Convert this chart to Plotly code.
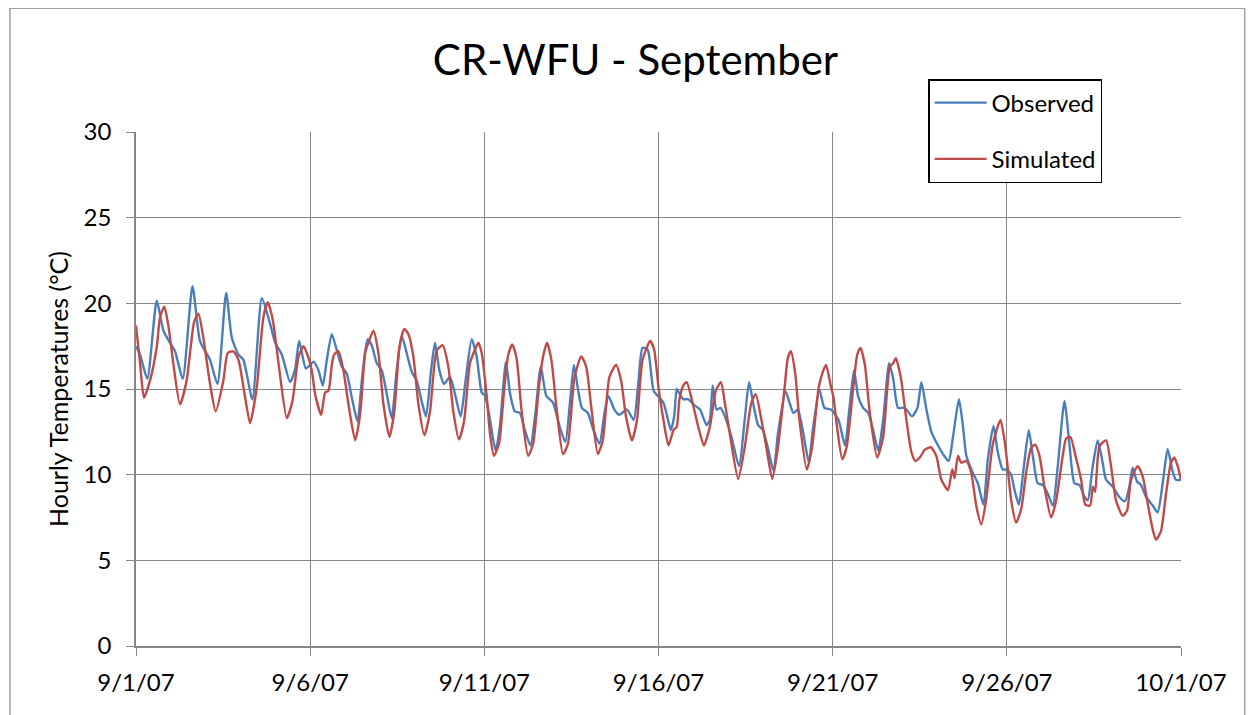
import pandas as pd
import plotly.graph_objects as go

# hours since 9/1/07 00:00 and temperature (deg C)
obs_hours = [0, 2.8, 7.8, 14.3, 18.9, 23.4, 26.9, 32.2, 38.9, 44.1, 51.0, 56.1, 62.1, 66.0, 70.6, 74.0,
             80.2, 86.7, 92.4, 95.9, 100.5, 106.2, 109.7, 112.4, 117.0, 120, 122.3, 125.7, 128.7, 131.5,
             134.9, 138.4, 141.8, 145.2, 148.7, 152.6, 155.6, 159.5, 162.4, 165.9, 169.3, 172.8, 176.2,
             179.6, 183.1, 186.5, 190, 193.4, 196.8, 199.8, 203.3, 206, 209, 212.2, 216.3, 219.8, 223.7,
             227.1, 231.3, 234.7, 238.2, 240.5, 243.9, 247.8, 250.7, 254.9, 257.6, 261, 264.5, 267.9,
             271.8, 275.2, 278.9, 282.7, 287.3, 291.9, 295.8, 299.2, 301.7, 304.5, 307.2, 311.3, 315.2,
             319.3, 322.8, 325.5, 329.6, 333, 338.3, 342.9, 346.1, 349, 352.5, 356.6, 360, 363.4, 366,
             368.5, 370.8, 372.6, 374.9, 377.1, 380.6, 384, 388.6, 393.1, 395.4, 397.3, 400, 402.7, 405.7,
             410.3, 415.5, 419.4, 422.4, 425.6, 428.6, 432, 435.4, 439.3, 442.3, 447.6, 450.3, 453, 456,
             459.4, 463.6, 466.3, 470.9, 474.3, 478.9, 484, 488.5, 491.2, 494.7, 497.6, 501, 504.5,
             507.9, 511.4, 514.8, 518.9, 521.7, 525.1, 529.7, 534.7, 538.4, 541.1, 544.6, 548, 552.6, 556,
             559.9, 562.9, 567, 569.8, 572.1, 576.6, 580, 583.9, 586.9, 590.8, 593.8, 597.2, 600, 603,
             605.3, 608.3, 611.5, 615.1, 617.9, 621.3, 624.8, 628.2, 631.7, 635.1, 639.7, 643.1, 646.6,
             650, 653.5, 655.7, 659.2, 662.6, 665.6, 668.4, 673, 677.5, 681.4, 684.4, 686.7, 689.7, 692.4,
             695.9, 700.5, 703.9, 707.4, 710.8, 714.2, 716.5, 720]
obs_temp = [17.5, 17.0, 15.6, 20.15, 18.4, 17.7, 17.2, 15.6, 21.0, 17.8, 16.7, 15.3, 20.6, 18.0, 17.0, 16.7,
            14.4, 20.3, 18.8, 17.7, 17.0, 15.4, 16.2, 17.8, 16.2, 16.4, 16.6, 16.1, 15.2, 16.7,
            18.2, 17.25, 16.3, 15.9, 14.5, 13.1, 15.5, 17.9, 17.55, 16.5, 16.1, 14.7, 13.3,
            16.1, 18.1, 17.1, 16.0, 15.5, 14.3, 13.4, 16.1, 17.7, 16.1, 15.3, 15.7, 14.7, 13.4,
            15.5, 17.9, 16.9, 14.8, 14.6, 13.2, 11.4, 12.8, 16.6, 14.8, 13.7, 13.6, 12.6,
            11.7, 13.6, 16.3, 14.6, 14.2, 12.8, 11.9, 14.4, 16.4, 15.0, 13.9, 13.6, 12.6,
            11.8, 13.6, 14.6, 13.8, 13.5, 13.8, 13.2, 15.35, 17.4, 17.3, 14.9, 14.55, 14.2, 13.4,
            12.6, 13.4, 15.0, 14.65, 14.4, 14.4, 14.1, 13.8, 12.9, 13.2, 15.2, 13.8, 13.9, 13.4,
            12.2, 10.5, 13.2, 15.4, 14.0, 12.9, 12.6, 11.55, 10.2, 12.4, 14.85, 14.2, 13.6, 13.8,
            12.6, 10.7, 12.6, 14.95, 13.9, 13.8, 13.2, 11.7, 13.6, 16.1, 14.55, 13.9, 13.6,
            12.6, 11.4, 13.2, 16.5, 15.6, 13.9, 13.9, 13.4, 13.9, 15.4, 13.8, 12.5, 11.7, 11.2,
            10.8, 12.2, 14.4, 12.8, 11.1, 10.1, 9.5, 8.25, 10.9, 12.85, 11.3, 10.3, 10.3, 10.0,
            9.1, 8.25, 10.3, 12.6, 11.1, 9.5, 9.4, 8.9, 8.2, 10.5, 14.3, 11.8, 9.5,
            9.4, 8.7, 8.5, 10.5, 12.0, 10.9, 9.7, 9.3, 8.7, 8.45, 9.3, 10.4, 9.6, 9.4,
            8.7, 8.2, 7.8, 9.5, 11.5, 10.2, 9.7, 9.7]

sim_hours = [0, 2.8, 5.5, 9.7, 14.3, 16.6, 19.5, 22.3, 25.7, 30.3, 34.9, 37.9, 40, 43, 46.4, 51, 54.9,
             60.2, 63.2, 67.1, 70.6, 75.2, 78.6, 83.2, 87.8, 90.8, 94.3, 98.2, 103.9, 107.8, 112, 115.4,
             117.7, 121.1, 123.4, 127.6, 130.3, 132.6, 134.9, 136.5, 139.5, 142.9, 146.4, 151, 154.4,
             157.9, 160.1, 163.6, 167, 170.5, 174.6, 178, 181.5, 184.9, 187.7, 191.1, 194.6, 198.7,
             202.6, 207.2, 211.3, 215.2, 218.6, 222.5, 226, 230.1, 233.6, 235.9, 238.2, 241.6, 243.9,
             246.6, 250.1, 253.7, 256.5, 259.2, 262.2, 265.6, 270.2, 273.6, 277.7, 280.5, 283.2, 286.2,
             289.6, 294.2, 297.6, 302.2, 306.8, 310.2, 313.6, 318.2, 321.6, 326.2, 330.8, 334.2, 337.6,
             341.7, 345.2, 349, 354.3, 357, 360, 363.4, 366.9, 370.3, 372.6, 374.4, 377.1, 379.4, 382.9,
             387.4, 391.3, 395.4, 399.5, 403, 405.7, 409.1, 414.9, 419.4, 424, 427, 430.9, 434.3, 438.4,
             442.3, 446.9, 449.1, 451.2, 454.2, 457.1, 462.2, 465.8, 470.4, 473.2, 475.4, 478.9, 480.5,
             482.7, 486.6, 489.6, 494.2, 496.9, 499.2, 502.2, 505.6, 510.7, 514.8, 519.4, 521.7, 523.5,
             526.9, 530.8, 534.3, 537, 540, 543.4, 547.6, 551.4, 554.9, 559.5, 562.4, 564, 566.3, 568.6,
             572.1, 575.5, 578.9, 582.4, 585.8, 590.4, 595.6, 598.4, 600, 603, 606.4, 609.9, 613.3,
             616.7, 619.5, 622.5, 625.9, 630.5, 634, 638.5, 640.8, 643.8, 647.3, 651.2, 654.1, 657.4,
             659.2, 660.8, 663.8, 668.4, 671.8, 675.2, 679.8, 682.8, 685.6, 690.2, 693.6, 697, 700.5,
             702.8, 706.2, 709.7, 713.1, 715.4, 717.7, 720]
sim_temp = [18.7, 16.5, 14.5, 15.5, 17.45, 19.2, 19.8, 18.7, 16.5, 14.1, 15.5, 17.6, 18.9, 19.4, 18.0, 15.3, 13.7,
            15.5, 17.1, 17.2, 16.7, 14.5, 13.0, 15.1, 19.2, 20.06, 19.0, 16.5, 13.3, 14.3, 16.9, 17.5,
            17.1, 16.1, 14.7, 13.5, 14.8, 14.9, 16.4, 17.0, 17.2, 16.1, 14.1, 12.0, 13.5,
            17.1, 17.7, 18.4, 17.1, 14.1, 12.2, 13.7, 17.45, 18.5, 18.2, 16.9, 14.1, 12.3,
            13.7, 17.25, 17.55, 16.3, 13.7, 12.06, 13.1, 16.5, 17.3, 17.7, 17.1, 14.6, 12.4,
            11.1, 11.8, 15.0, 17.0, 17.6, 16.8, 13.8, 11.1, 11.8, 15.2, 16.9, 17.7, 16.7,
            14.0, 11.2, 11.8, 15.7, 16.9, 16.3, 14.0, 11.2, 12.0, 15.7, 16.4, 15.5, 13.4,
            12.0, 13.2, 16.7, 17.8, 17.3, 15.1, 13.2, 11.7, 12.6, 12.8, 14.4, 15.2, 15.4, 14.4,
            12.8, 11.7, 12.8, 14.9, 15.4, 14.2, 12.4, 9.75, 11.6, 14.2, 14.7, 13.2, 11.6, 9.75,
            11.6, 15.1, 16.8, 17.2, 15.9, 13.2, 10.3, 11.6, 15.1, 16.0, 16.4, 15.1, 14.55,
            13.0, 10.9, 11.6, 15.1, 17.0, 17.4, 16.4, 13.6, 11.0, 12.2, 16.3, 16.5, 16.8,
            15.7, 13.2, 11.3, 10.8, 11.0, 11.45, 11.6, 11.1, 9.7, 9.1, 10.3, 9.8, 11.1, 10.7,
            10.8, 10.1, 8.2, 7.1, 8.55, 11.8, 13.2, 12.0, 10.9, 8.5, 7.2, 8.0, 10.1,
            11.55, 11.75, 11.1, 9.3, 7.5, 8.5, 11.1, 12.1, 12.2, 11.1, 9.7, 8.25, 8.2,
            9.3, 9.0, 11.65, 12.0, 10.5, 8.5, 7.6, 7.9, 9.7, 10.5, 9.9, 8.35, 6.8,
            6.2, 6.7, 8.9, 10.7, 11.0, 10.5, 9.7]

tick_dates = ["2007-09-01", "2007-09-06", "2007-09-11", "2007-09-16", "2007-09-21", "2007-09-26", "2007-10-01"]
tick_text = ["9/1/07", "9/6/07", "9/11/07", "9/16/07", "9/21/07", "9/26/07", "10/1/07"]

start = pd.Timestamp("2007-09-01")
obs_time = start + pd.to_timedelta(obs_hours, unit="h")
sim_time = start + pd.to_timedelta(sim_hours, unit="h")

font = "Lato, 'Open Sans', sans-serif"
grid = "#868686"

fig = go.Figure()
fig.add_trace(go.Scatter(x=obs_time, y=obs_temp, mode="lines", name="Observed", legendgroup="obs",
                         line=dict(color="#4a7ebb", width=2.4, shape="spline", smoothing=0.6)))
fig.add_trace(go.Scatter(x=sim_time, y=sim_temp, mode="lines", name="Simulated", legendgroup="sim",
                         line=dict(color="#be4b48", width=2.4, shape="spline", smoothing=0.6)))

# the page body adds an 8px margin, so the figure is 8px smaller and margins shifted
fig.update_layout(
    width=1246, height=707,
    margin=dict(l=128, r=73, t=124, b=69),
    paper_bgcolor="white", plot_bgcolor="white",
    font=dict(family=font, color="black", size=24),
    title=dict(text="CR-WFU - September", xref="paper", x=0.478, xanchor="center",
               y=0.926, yanchor="middle", font=dict(size=42, family=font)),
    legend=dict(x=0.758, y=1.103, xanchor="left", yanchor="top", bordercolor="black", borderwidth=1.5,
                bgcolor="white", font=dict(size=24), tracegroupgap=22, itemwidth=52),
    showlegend=True,
)

fig.update_xaxes(
    range=[start, pd.Timestamp("2007-10-01")],
    tickvals=tick_dates, ticktext=tick_text,
    showgrid=True, gridcolor=grid, gridwidth=1,
    showline=True, linecolor=grid, linewidth=1.5, mirror=False,
    ticks="outside", ticklen=8, tickcolor=grid, ticklabelstandoff=6,
    tickfont=dict(size=24), zeroline=False, automargin=False,
)
fig.update_yaxes(
    range=[0, 30], dtick=5,
    showgrid=True, gridcolor=grid, gridwidth=1,
    showline=True, linecolor=grid, linewidth=1.5,
    ticks="outside", ticklen=8, tickcolor=grid, ticklabelstandoff=10,
    tickfont=dict(size=24), zeroline=False, automargin=False,
    title=dict(text="Hourly Temperatures (°C)", standoff=8, font=dict(size=25)),
)

# outer chart border
fig.add_shape(type="rect", xref="paper", yref="paper", x0=-0.1206, x1=1.061, y0=-0.2, y1=1.241,
              line=dict(color="#a0a0a0", width=1.5), layer="below")

fig.write_html("out.html")
